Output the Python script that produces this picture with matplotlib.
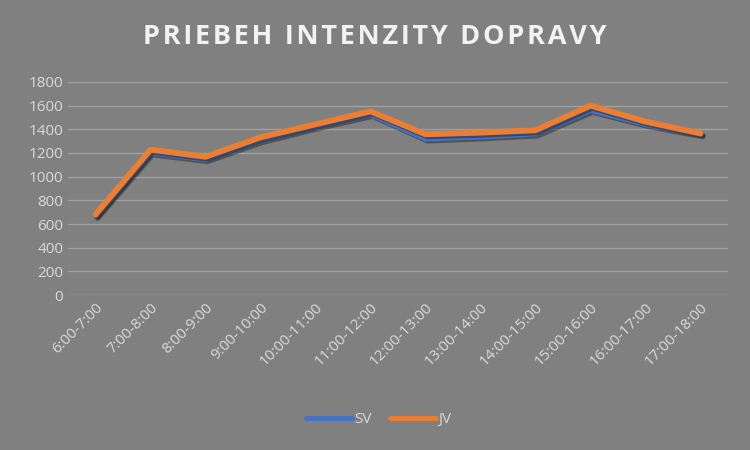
import matplotlib.pyplot as plt
import matplotlib.patheffects as pe
from matplotlib.lines import Line2D

# data
casy = ['6:00-7:00', '7:00-8:00', '8:00-9:00', '9:00-10:00', '10:00-11:00', '11:00-12:00',
        '12:00-13:00', '13:00-14:00', '14:00-15:00', '15:00-16:00', '16:00-17:00', '17:00-18:00']
sv = [668, 1205, 1148, 1310, 1425, 1530, 1322, 1340, 1365, 1565, 1445, 1358]
jv = [680, 1228, 1168, 1332, 1442, 1552, 1358, 1372, 1392, 1600, 1465, 1365]

bg = '#808080'
txt = '#d9d9d9'
plt.rcParams['font.family'] = ['Open Sans', 'DejaVu Sans']

fig = plt.figure(figsize=(7.5, 4.5), dpi=100, facecolor=bg)
ax = fig.add_axes([0.0907, 0.3444, 0.88, 0.4734], facecolor=bg)

stin = [pe.SimpleLineShadow(offset=(1.5, -1.5), shadow_color='black', alpha=0.35), pe.Normal()]
x = range(len(casy))
ax.plot(x, sv, color='#4472c4', lw=4.2, solid_capstyle='round', solid_joinstyle='round',
        path_effects=stin)
ax.plot(x, jv, color='#ed7d31', lw=4.2, solid_capstyle='round', solid_joinstyle='round',
        path_effects=stin)

ax.set_xlim(-0.5, len(casy) - 0.5)
ax.set_ylim(0, 1800)
ax.set_yticks(range(0, 1801, 200))
ax.grid(axis='y', color='#a0a0a0', lw=1)
ax.set_axisbelow(True)
for s in ax.spines.values():
    s.set_visible(False)
ax.tick_params(length=0, colors=txt, labelsize=11)
ax.set_xticks(list(x))
ax.set_xticklabels(casy, rotation=45, ha='right', rotation_mode='anchor')

# titulok s rozostupom pismen
nadpis = 'PRIEBEH INTENZITY DOPRAVY'
fig.text(0.5, 0.918, '\u200a'.join(nadpis),
         ha='center', va='center', color='#f2f2f2', fontsize=19.5, fontweight='bold')

handles = [Line2D([], [], color='#4472c4', lw=3.5, solid_capstyle='round'),
           Line2D([], [], color='#ed7d31', lw=3.5, solid_capstyle='round')]
fig.legend(handles, ['SV', 'JV'], loc='center', bbox_to_anchor=(0.505, 0.068), ncol=2,
           frameon=False, labelcolor=txt, fontsize=11, handlelength=3.0,
           handletextpad=0.15, columnspacing=1.2)

fig.savefig('out.png', dpi=100, facecolor=bg)
